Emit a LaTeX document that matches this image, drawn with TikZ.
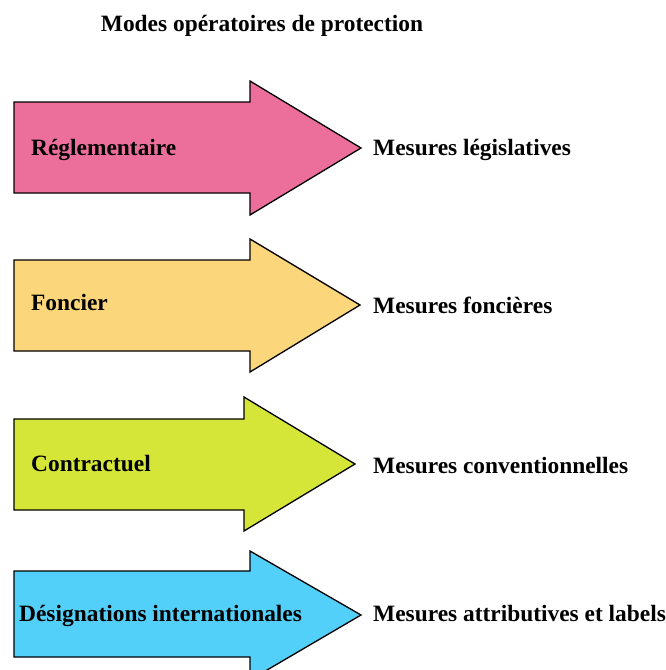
\documentclass[tikz,border=0pt]{standalone}
\usepackage{fontspec}
\setmainfont{Liberation Serif}
\usepackage{xcolor}
\usetikzlibrary{positioning}

\definecolor{pinkfill}{HTML}{EC6F9B}
\definecolor{sandfill}{HTML}{FBD67A}
\definecolor{limefill}{HTML}{D6E638}
\definecolor{skyfill}{HTML}{52D0FA}

\begin{document}
\begin{tikzpicture}[
    x=1pt, y=-1pt,
    bigarrow/.style={draw=black, line width=1.3pt, line join=miter},
    label/.style={font=\fontsize{23.4}{28}\selectfont\bfseries, inner sep=0pt, anchor=base west}
]
\useasboundingbox (0,0) rectangle (666,670);

% Title
\node[label, anchor=base] (title) at (262,31) {Modes opératoires de protection};

% Reglementaire
\draw[bigarrow, fill=pinkfill] (14,102) -- (250,102) -- (250,81) -- (361,148)
    -- (250,215) -- (250,193) -- (14,193) -- cycle;
\node[label] (regl) at (31,155) {Réglementaire};
\node[label] (legis) at (373,155) {Mesures législatives};

% Foncier
\draw[bigarrow, fill=sandfill] (14,260) -- (250,260) -- (250,239) -- (360,305)
    -- (250,372) -- (250,351) -- (14,351) -- cycle;
\node[label] (fonc) at (31,310) {Foncier};
\node[label] (foncm) at (373,313) {Mesures foncières};

% Contractuel
\draw[bigarrow, fill=limefill] (14,419) -- (244,419) -- (244,397) -- (355,464)
    -- (244,531) -- (244,510) -- (14,510) -- cycle;
\node[label] (contr) at (31,471) {Contractuel};
\node[label] (conv) at (373,473) {Mesures conventionnelles};

% Designations internationales
\draw[bigarrow, fill=skyfill] (14,571) -- (250,571) -- (250,551) -- (361,615)
    -- (250,680) -- (250,657) -- (14,657) -- cycle;
\node[label] (desig) at (19,621) {Désignations internationales};
\node[label] (attr) at (373,621) {Mesures attributives et labels};

\end{tikzpicture}
\end{document}
